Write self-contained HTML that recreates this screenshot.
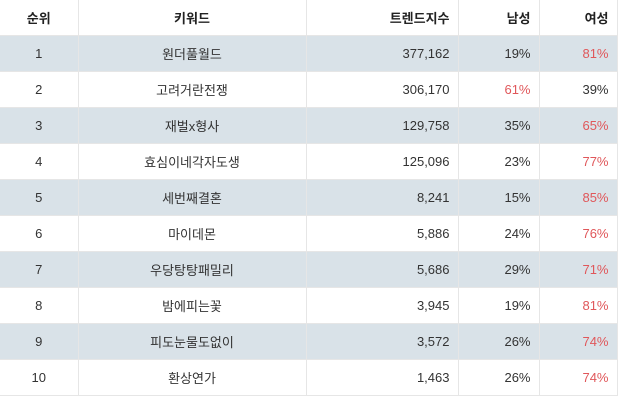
<!DOCTYPE html>
<html><head><meta charset="utf-8"><style>
body{margin:0;width:620px;height:400px;background:#fff;font-family:"Liberation Sans","Noto Sans CJK KR",sans-serif;font-size:13px;color:#333}
table{border-collapse:collapse;table-layout:fixed;width:617px;position:absolute;left:0;top:0}
td,th{height:35px;border-right:1px solid #e6e6e6;border-bottom:1px solid #e6e6e6;padding:0 8px;white-space:nowrap}
th{font-weight:bold;text-align:center;color:#222}
tr.a td{background:#d9e2e8}
.c{text-align:center}.r{text-align:right}.red{color:#e0575a}
</style></head><body>
<table>
<col style="width:78px"><col style="width:228px"><col style="width:152px"><col style="width:81px"><col style="width:78px">
<tr><th>순위</th><th>키워드</th><th class="r">트렌드지수</th><th class="r">남성</th><th class="r">여성</th></tr>
<tr class="a"><td class="c">1</td><td class="c">원더풀월드</td><td class="r">377,162</td><td class="r">19%</td><td class="r red">81%</td></tr>
<tr><td class="c">2</td><td class="c">고려거란전쟁</td><td class="r">306,170</td><td class="r red">61%</td><td class="r">39%</td></tr>
<tr class="a"><td class="c">3</td><td class="c">재벌x형사</td><td class="r">129,758</td><td class="r">35%</td><td class="r red">65%</td></tr>
<tr><td class="c">4</td><td class="c">효심이네각자도생</td><td class="r">125,096</td><td class="r">23%</td><td class="r red">77%</td></tr>
<tr class="a"><td class="c">5</td><td class="c">세번째결혼</td><td class="r">8,241</td><td class="r">15%</td><td class="r red">85%</td></tr>
<tr><td class="c">6</td><td class="c">마이데몬</td><td class="r">5,886</td><td class="r">24%</td><td class="r red">76%</td></tr>
<tr class="a"><td class="c">7</td><td class="c">우당탕탕패밀리</td><td class="r">5,686</td><td class="r">29%</td><td class="r red">71%</td></tr>
<tr><td class="c">8</td><td class="c">밤에피는꽃</td><td class="r">3,945</td><td class="r">19%</td><td class="r red">81%</td></tr>
<tr class="a"><td class="c">9</td><td class="c">피도눈물도없이</td><td class="r">3,572</td><td class="r">26%</td><td class="r red">74%</td></tr>
<tr><td class="c">10</td><td class="c">환상연가</td><td class="r">1,463</td><td class="r">26%</td><td class="r red">74%</td></tr>
</table>
</body></html>
